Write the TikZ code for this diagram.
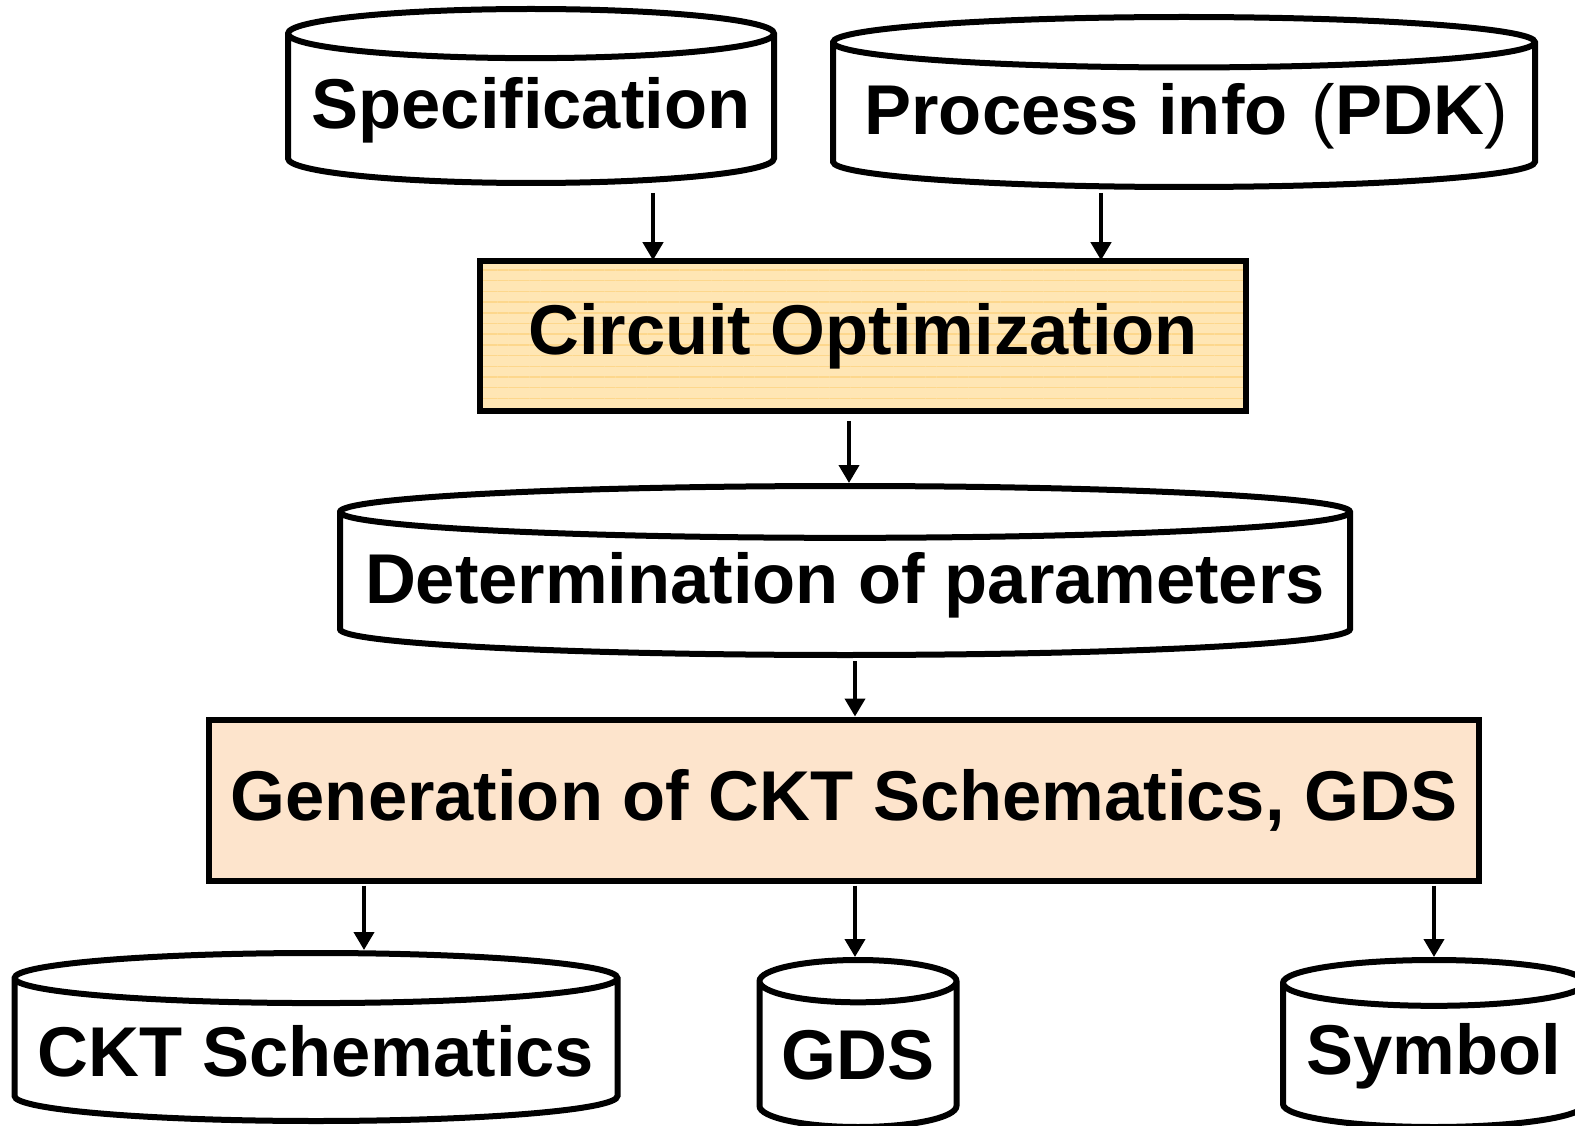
\documentclass[tikz,border=0pt]{standalone}
\usepackage{fontspec}
\setmainfont{Liberation Sans}
\usetikzlibrary{shapes.geometric,arrows.meta,patterns.meta}
\definecolor{optfill}{HTML}{FFE6B4}
\definecolor{optline}{HTML}{FDD78C}
\definecolor{genfill}{HTML}{FDE4CC}
\begin{document}
\begin{tikzpicture}[x=1pt,y=-1pt,
    every node/.style = {font=\fontsize{70.5}{80}\selectfont\bfseries, inner sep=0pt},
    dbase/.style = {cylinder, shape border rotate=90, anchor=north, draw, line width=6pt, fill=white},
    stepbox/.style = {rectangle, draw, line width=6pt},
    arr/.style = {line width=4pt, -{Triangle[width=20pt,length=18pt]}}]
    \useasboundingbox (0,0) rectangle (1575,1126);
    % inputs
    \node[dbase, minimum width=486pt, minimum height=174pt, aspect=0.112] (spec) at (531,6) {Specification};
    \node[dbase, minimum width=702pt, minimum height=170pt, aspect=0.078] (pdk) at (1184,14)
      {\hspace*{4pt}Process info\hspace{24pt}{\mdseries(}PDK{\mdseries)}};
    % optimization
    \node[stepbox, minimum width=766pt, minimum height=150pt,
      preaction={fill=optfill}, pattern={Lines[angle=0,distance=10.7pt,line width=1.5pt]}, pattern color=optline] (opt) at (863,336) {Circuit Optimization};
    \node[dbase, minimum width=1010pt, minimum height=169pt, aspect=0.054] (det) at (845,483) {Determination of parameters};
    \node[stepbox, minimum width=1270pt, minimum height=161pt, fill=genfill] (gen) at (844,800) {Generation of CKT Schematics, GDS};
    % outputs
    \node[dbase, minimum width=603pt, minimum height=168pt, aspect=0.09] (ckt) at (316,950) {CKT Schematics};
    \node[dbase, minimum width=197pt, minimum height=167pt, aspect=0.277] (gds) at (858,957) {GDS};
    \node[dbase, minimum width=302pt, minimum height=167pt, aspect=0.18] (sym) at (1434,957) {Symbol};
    % connectors
    \draw[arr] ([xshift=122pt,yshift=-7pt]spec.south) coordinate (s1) -- (s1 |- opt.north);
    \draw[arr] ([xshift=-83pt,yshift=-3pt]pdk.south) coordinate (s2) -- (s2 |- opt.north);
    \draw[arr] ([xshift=-14pt,yshift=-9pt]opt.south) coordinate (s3) -- (s3 |- det.north);
    \draw[arr] ([xshift=10pt,yshift=-3pt]det.south) coordinate (s4) -- (s4 |- gen.north);
    \draw[arr] ([xshift=-480pt,yshift=-2pt]gen.south) coordinate (s5) -- (s5 |- ckt.north);
    \draw[arr] ([xshift=11pt,yshift=-2pt]gen.south) coordinate (s6) -- (s6 |- gds.north);
    \draw[arr] ([xshift=590pt,yshift=-2pt]gen.south) coordinate (s7) -- (s7 |- sym.north);
\end{tikzpicture}
\end{document}
